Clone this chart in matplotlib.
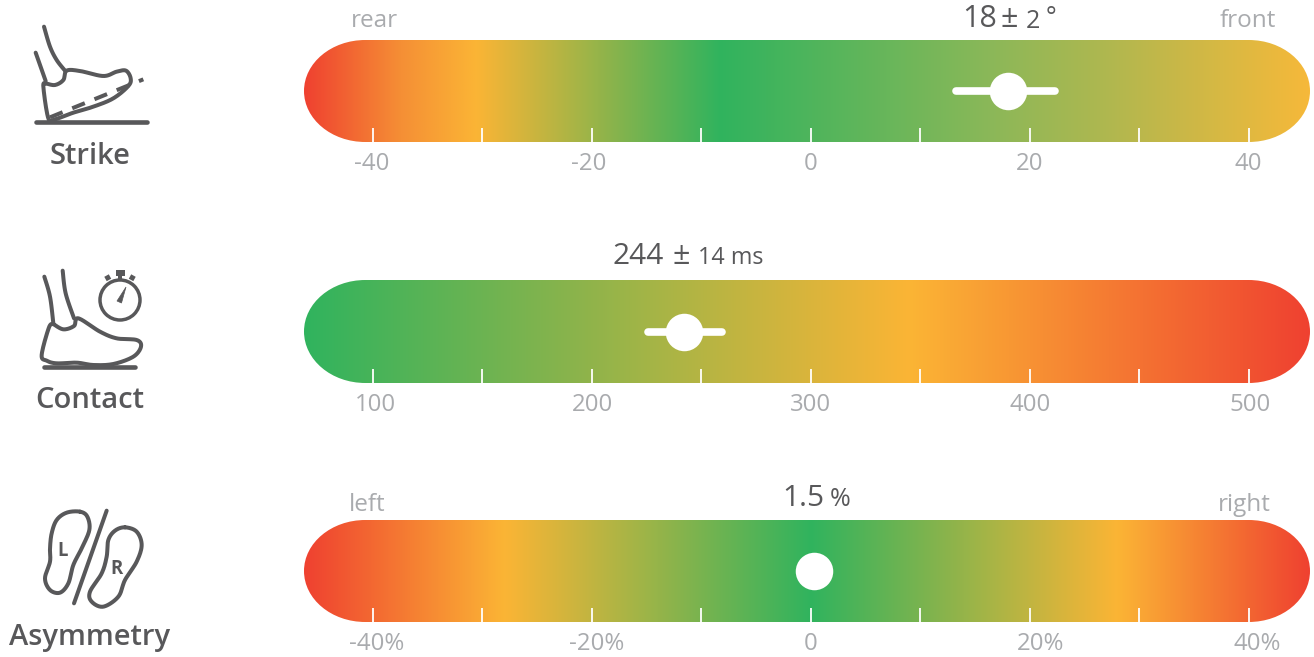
#!/usr/bin/env python3
import numpy as np
import matplotlib
matplotlib.use("Agg")
import matplotlib.pyplot as plt
from matplotlib.colors import LinearSegmentedColormap
from matplotlib.patches import Circle, PathPatch, Polygon, Rectangle
from matplotlib.path import Path
from matplotlib.transforms import ScaledTranslation

W, H = 1314, 657
DARK = "#58585a"
GREY = "#a9abae"
RED = "#ef4130"
ORANGE = "#f58f35"
YELLOW = "#fbb535"
GREEN = "#30b35e"

plt.rcParams["font.family"] = ["Open Sans", "DejaVu Sans"]

# values
strike_ticks = [-40, -30, -20, -10, 0, 10, 20, 30, 40]
strike_labels = ["-40", "", "-20", "", "0", "", "20", "", "40"]
strike_value = 18
strike_low, strike_high = 13.3, 22.3

contact_ticks = [100, 150, 200, 250, 300, 350, 400, 450, 500]
contact_labels = ["100", "", "200", "", "300", "", "400", "", "500"]
contact_value = 242
contact_low, contact_high = 225.5, 259.5

asym_ticks = [-40, -30, -20, -10, 0, 10, 20, 30, 40]
asym_labels = ["-40%", "", "-20%", "", "0", "", "20%", "", "40%"]
asym_value = 0.3

# gradient stops, in axis units
strike_stops = [(-46.3, RED), (-37.5, ORANGE), (-30.6, YELLOW), (-8.3, GREEN), (17, "#8db858"), (26.5, "#adb750"), (45.6, "#f6b93a")]
contact_stops = [(68.5, GREEN), (345, YELLOW), (528, RED)]
asym_stops = [(-46.3, RED), (-28, YELLOW), (0, GREEN), (28, YELLOW), (45.6, RED)]

# labels are not quite centred on their ticks in the original (pixels)
strike_shift = [-1, 0, -3, 0, 0, 0, 0, 0, 0]
contact_shift = [2, 0, 1, 0, 0, 0, 0, 0, 1]
asym_shift = [4, 0, 5, 0, 0, 0, 11, 0, 9]


def smooth(pts, closed=False, n=16):
    # catmull-rom through the hand-read outline points
    p = np.asarray(pts, float)
    if closed:
        p = np.vstack([p[-1], p, p[0], p[1]])
    else:
        p = np.vstack([p[0], p, p[-1]])
    out = []
    for i in range(1, len(p) - 2):
        for t in np.linspace(0, 1, n, endpoint=False):
            out.append(0.5 * (2 * p[i] + (p[i + 1] - p[i - 1]) * t
                              + (2 * p[i - 1] - 5 * p[i] + 4 * p[i + 1] - p[i + 2]) * t ** 2
                              + (3 * p[i] - p[i - 1] - 3 * p[i + 1] + p[i + 2]) * t ** 3))
    out.append(p[-2])
    return np.array(out)


def icon_line(ov, pts, dy=0, lw=4.0, closed=False, curved=True, **kw):
    # pts are in 3x zoom pixels, same as I measured them
    xy = smooth(pts, closed) if curved else np.asarray(pts, float)
    ov.plot(xy[:, 0] / 3, xy[:, 1] / 3 + dy, color=DARK, lw=lw * 0.72,
            solid_capstyle="round", solid_joinstyle="round", **kw)


def pill_clip(ax, cap=0.061):
    # elliptical ends, same outline as the reference
    k = 0.5523
    verts = [(cap, 0), (1 - cap, 0),
             (1 - cap + k * cap, 0), (1, 0.5 - k * 0.5), (1, 0.5),
             (1, 0.5 + k * 0.5), (1 - cap + k * cap, 1), (1 - cap, 1),
             (cap, 1),
             (cap - k * cap, 1), (0, 0.5 + k * 0.5), (0, 0.5),
             (0, 0.5 - k * 0.5), (cap - k * cap, 0), (cap, 0)]
    codes = [Path.MOVETO, Path.LINETO] + [Path.CURVE4] * 6 + [Path.LINETO] + [Path.CURVE4] * 6
    return PathPatch(Path(verts, codes), transform=ax.transAxes, fc="none", ec="none")


def draw_bar(fig, top, bottom, stops, ticks, labels, shifts, value, low=None, high=None):
    lo, hi = stops[0][0], stops[-1][0]
    ax = fig.add_axes([304 / W, 1 - bottom / H, (1310 - 304) / W, (bottom - top) / H])
    cmap = LinearSegmentedColormap.from_list(
        "bar", [((s - lo) / (hi - lo), c) for s, c in stops], N=512)
    im = ax.imshow(np.linspace(0, 1, 512)[None, :], cmap=cmap, aspect="auto",
                   extent=[lo, hi, 0, 1], vmin=0, vmax=1)
    clip = pill_clip(ax)
    ax.add_patch(clip)
    im.set_clip_path(clip)
    ax.set_xlim(lo, hi)
    ax.set_ylim(0, 1)
    ax.set_yticks([])
    ax.set_xticks(ticks)
    ax.set_xticklabels(labels, fontsize=17.3, color=GREY)
    ax.tick_params(axis="x", direction="in", length=10, width=1.3, color="white", pad=7.5)
    for lab, dx in zip(ax.get_xticklabels(), shifts):
        lab.set_transform(lab.get_transform() + ScaledTranslation(dx / fig.dpi, 0, fig.dpi_scale_trans))
    for s in ax.spines.values():
        s.set_visible(False)
    ax.patch.set_alpha(0)
    if low is not None:
        ax.plot([low, high], [0.5, 0.5], color="white", lw=5.5, solid_capstyle="round")
    ax.plot([value], [0.5], "o", color="white", ms=27, mew=0)
    return ax


def main():
    fig = plt.figure(figsize=(W / 100, H / 100), dpi=100)

    draw_bar(fig, 40, 142, strike_stops, strike_ticks, strike_labels, strike_shift,
             strike_value, strike_low, strike_high)
    draw_bar(fig, 280, 383, contact_stops, contact_ticks, contact_labels, contact_shift,
             contact_value, contact_low, contact_high)
    draw_bar(fig, 520, 622, asym_stops, asym_ticks, asym_labels, asym_shift, asym_value)

    # overlay in pixels for the words and icons
    ov = fig.add_axes([0, 0, 1, 1], zorder=5)
    ov.set_xlim(0, W)
    ov.set_ylim(H, 0)
    ov.axis("off")

    for x, y, s in [(374, 21, "rear"), (1248, 21, "front"), (367, 505, "left"), (1244, 505, "right")]:
        ov.text(x, y, s, fontsize=17.5, color=GREY, ha="center", va="center")

    for x, y, s, fs in [(962, 19, "18", 22), (1000, 19, "\u00b1", 22), (1026, 21, "2", 18), (1046, 19, "\u00b0", 18),
                        (612, 256, "244", 21.5), (672, 256, "\u00b1", 22), (698, 258, "14 ms", 16.8),
                        (782, 498, "1.5", 21.5), (830, 499, "%", 18)]:
        ov.text(x, y, s, fontsize=fs, color=DARK, ha="left", va="center")

    for x, y, s in [(90, 157, "Strike"), (90, 401, "Contact"), (90, 638, "Asymmetry")]:
        ov.text(x, y, s, fontsize=21, color=DARK, ha="center", va="center", fontweight="semibold")

    # strike icon
    icon_line(ov, [(132, 80), (150, 140), (170, 180), (195, 212)])
    icon_line(ov, [(107, 158), (137, 243)], curved=False)
    icon_line(ov, [(137, 250), (165, 255), (190, 240), (200, 212), (240, 213), (310, 228), (350, 215),
                   (378, 212), (392, 235), (385, 258), (340, 295), (280, 320), (220, 338), (165, 358),
                   (145, 355), (130, 260), (137, 250)])
    icon_line(ov, [(150, 352), (430, 238)], curved=False, ls=(0, (3.4, 2.6)))
    icon_line(ov, [(107, 365), (440, 365)], lw=4.6, curved=False)

    # contact icon
    dy = 250
    icon_line(ov, [(133, 80), (150, 140), (160, 220)], dy)
    icon_line(ov, [(188, 62), (197, 130), (222, 205)], dy)
    icon_line(ov, [(160, 222), (147, 232), (125, 315), (140, 332), (170, 340), (230, 338), (280, 345),
                   (340, 342), (400, 320), (423, 290), (410, 270), (350, 265), (300, 245), (235, 205),
                   (222, 228), (190, 238), (160, 222)], dy)
    icon_line(ov, [(132, 351), (405, 351)], dy, lw=4.6, curved=False)
    ov.add_patch(Circle((120, dy + 50), 20, fc="none", ec=DARK, lw=2.5))
    ov.add_patch(Rectangle((115.5, dy + 19.5), 9, 6.5, fc=DARK, ec="none"))
    ov.add_patch(Rectangle((118, dy + 25), 4, 5, fc=DARK, ec="none"))
    ov.plot([105.5, 110], [dy + 29, dy + 26.5], color=DARK, lw=3.6, solid_capstyle="butt")
    ov.plot([130, 134.5], [dy + 26.5, dy + 29], color=DARK, lw=3.6, solid_capstyle="butt")
    ov.add_patch(Polygon([(126, dy + 37), (117, dy + 51), (121.5, dy + 53)], fc=DARK, ec=DARK, lw=0.5))

    # asymmetry icon
    dy = 490
    icon_line(ov, [(240, 65), (200, 68), (170, 90), (155, 130), (150, 175), (150, 215), (135, 265),
                   (150, 300), (180, 308), (205, 280), (220, 225), (245, 175), (268, 120), (262, 80)],
              dy, closed=True)
    icon_line(ov, [(320, 62), (222, 340)], dy, curved=False)
    icon_line(ov, [(375, 112), (410, 125), (425, 165), (410, 215), (375, 270), (355, 320), (310, 350),
                   (275, 335), (270, 305), (305, 250), (320, 200), (325, 150), (345, 122)],
              dy, closed=True)
    ov.text(62.5, dy + 61, "L", fontsize=13.4, color=DARK, ha="center", va="center", fontweight="bold")
    ov.text(116.5, dy + 79, "R", fontsize=13.4, color=DARK, ha="center", va="center", fontweight="bold")

    fig.savefig("out.png", dpi=100)
    plt.close(fig)


if __name__ == "__main__":
    main()
